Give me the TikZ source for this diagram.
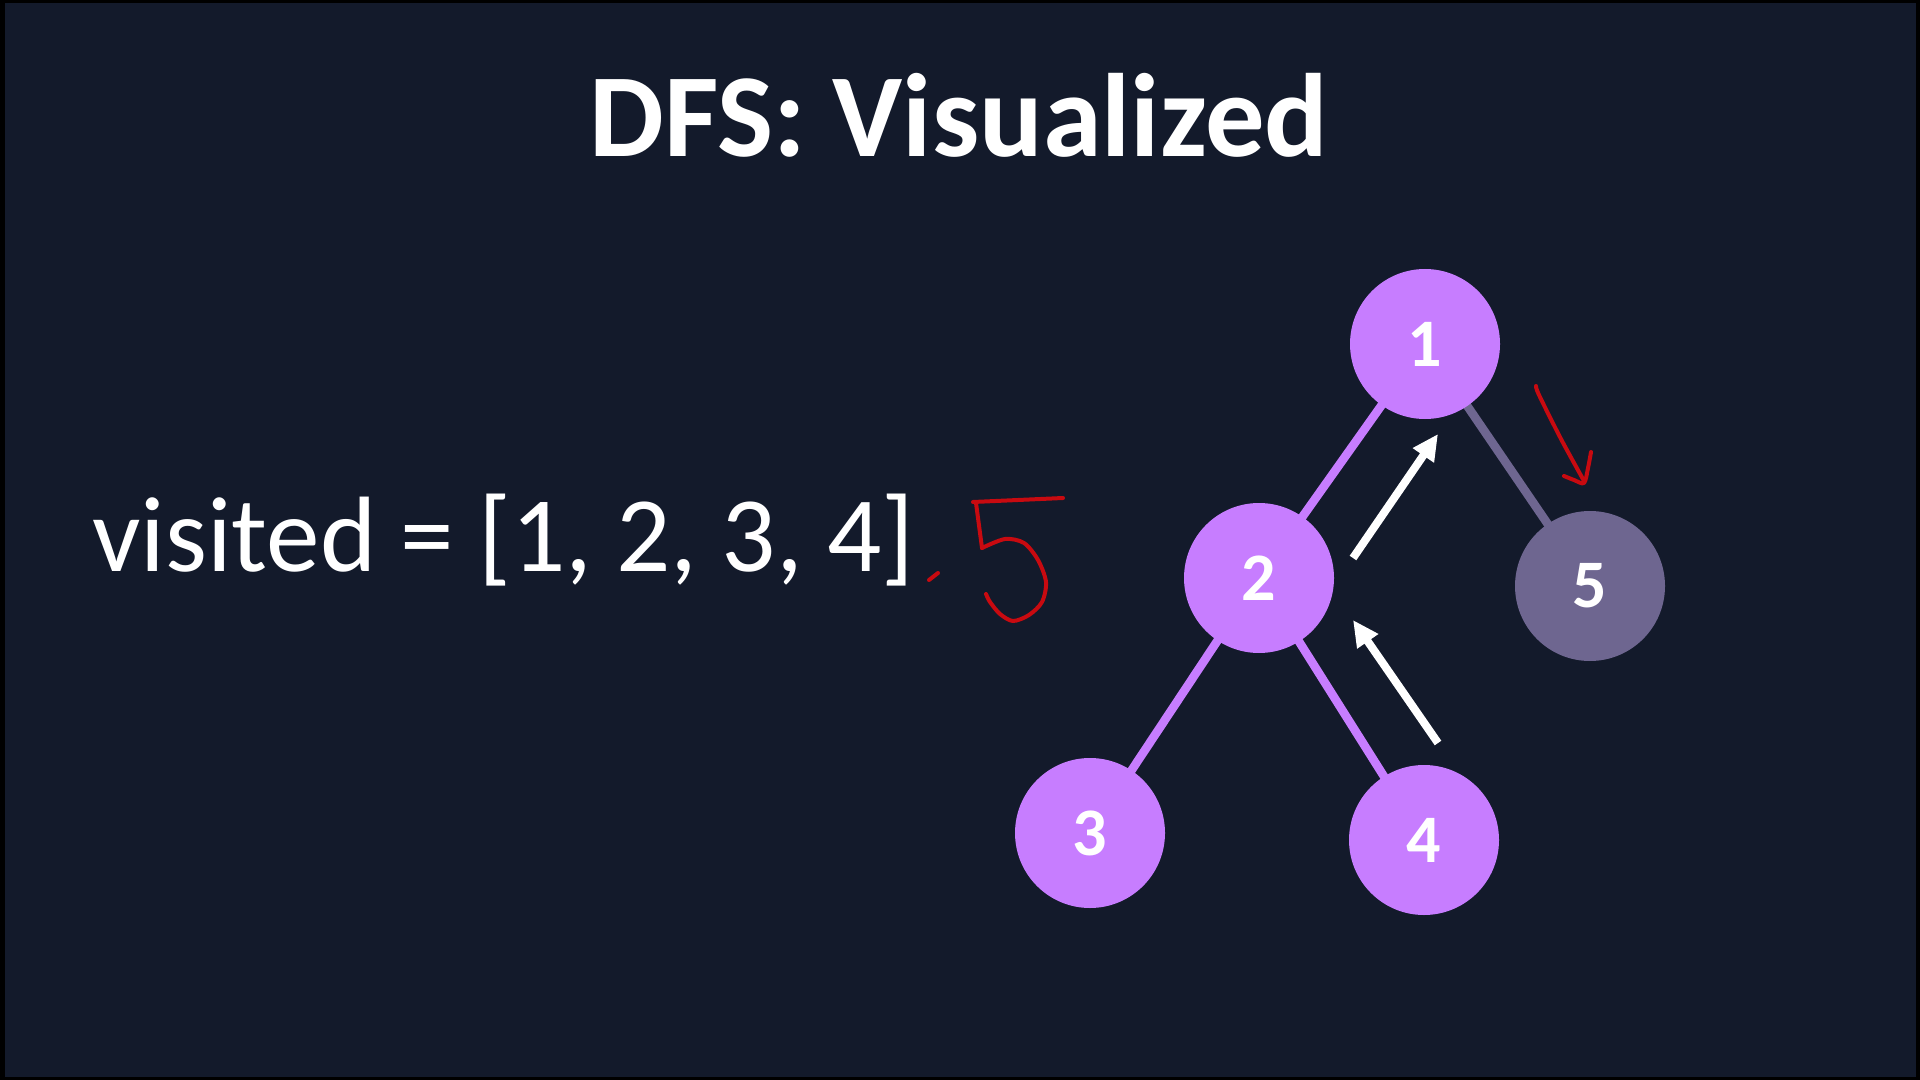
\documentclass[tikz,border=0pt]{standalone}
\usepackage{fontspec}
\setmainfont{Carlito}
\usetikzlibrary{arrows.meta}
\definecolor{bgc}{HTML}{131A2B}
\definecolor{nodec}{HTML}{C77DFF}
\definecolor{dimc}{HTML}{6E6690}
\definecolor{penred}{HTML}{C80A10}
\begin{document}
\begin{tikzpicture}[x=0.5pt,y=-0.5pt,
  vnode/.style={circle,fill=nodec,minimum size=75pt,inner sep=0pt,text=white,font=\fontsize{34}{34}\selectfont\bfseries},
  dnode/.style={vnode,fill=dimc},
  edgeline/.style={line width=4.3pt,draw=nodec},
  dimedge/.style={line width=4.3pt,draw=dimc},
  backarrow/.style={line width=4pt,draw=white,-{Triangle[length=13pt,width=12pt]}},
  pen/.style={draw=penred,line width=2pt,line cap=round,line join=round}]
\useasboundingbox (0,0) rectangle (1920,1080);
\fill[black] (0,0) rectangle (1920,1080);
\fill[bgc] (5,3) rectangle (1916,1077);
% title
\node[anchor=base,inner sep=0pt,text=white,font=\fontsize{59.3}{66}\selectfont\bfseries] (title) at (959,157) {DFS: Visualized};
% visited
\node[anchor=base west,inner sep=0pt,text=white,font=\fontsize{53.6}{60}\selectfont] (visited) at (92,571) {visited = [1, 2, 3, 4]};
% edges first (drawn under nodes)
\coordinate (c1) at (1425,344);
\coordinate (c2) at (1259,578);
\coordinate (c3) at (1090,833);
\coordinate (c4) at (1424,840);
\coordinate (c5) at (1590,586);
\draw[edgeline] (c1) -- (c2);
\draw[edgeline] (c2) -- (c3);
\draw[edgeline] (c2) -- (c4);
\draw[dimedge] (c1) -- (c5);
\node[vnode] (n1) at (c1) {1};
\node[vnode] (n2) at (c2) {2};
\node[vnode] (n3) at (c3) {3};
\node[vnode] (n4) at (c4) {4};
\node[dnode] (n5) at (c5) {5};
% white return arrows
\coordinate (a1s) at (1353,558);
\coordinate (a1e) at (1438,434);
\coordinate (a2s) at (1438,743);
\coordinate (a2e) at (1353,620);
\draw[backarrow] (a1s) -- (a1e);
\draw[backarrow] (a2s) -- (a2e);
% red handwritten arrow
\draw[pen] plot[smooth] coordinates {(1536,386) (1539,395) (1561,439) (1584,481)};
\draw[pen] plot[smooth] coordinates {(1591,452) (1588,468) (1584,483) (1574,480) (1564,476)};
% red handwritten 5 and comma
\draw[pen] (973,502) -- (1063,498);
\draw[pen] (976,503) -- (982,548);
\draw[pen] plot[smooth] coordinates {(982,548) (1005,539) (1024,543) (1038,560) (1046,582) (1042,602) (1029,615) (1013,621) (1000,614) (990,602) (986,594)};
\draw[pen] (938,573) -- (929,580);
\end{tikzpicture}
\end{document}
